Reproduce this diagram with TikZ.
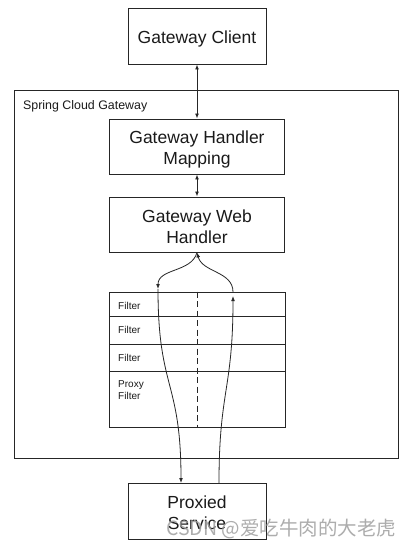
\documentclass[tikz,border=0pt]{standalone}
\usepackage{fontspec}
\setmainfont{Liberation Sans}
\newfontfamily\cjk{Noto Sans CJK SC}
\usetikzlibrary{arrows.meta}
\definecolor{linec}{HTML}{262626}
\definecolor{txt}{HTML}{1A1A1A}
\begin{document}
\begin{tikzpicture}[x=1pt,y=-1pt,
 box/.style={draw=linec, line width=0.9pt, fill=white, inner sep=0pt},
 boxtext/.style={text=txt, font=\fontsize{17.5}{21}\selectfont, align=center, inner sep=0pt},
 frame/.style={draw=linec, line width=0.9pt, inner sep=0pt},
 row/.style={draw=linec, line width=0.9pt, minimum width=176pt, inner sep=0pt},
 flab/.style={font=\fontsize{10}{12}\selectfont, text=txt, align=left, inner sep=0pt},
 conn/.style={draw=linec, line width=0.8pt},
 tip/.style={-{Latex[length=5pt,width=3.8pt]}},
 dtip/.style={{Latex[length=5pt,width=3.8pt]}-{Latex[length=5pt,width=3.8pt]}}
]
\fill[white] (0,0) rectangle (411,547);
\useasboundingbox (0,0) rectangle (411,547);

% outer container
\node[frame, minimum width=384pt, minimum height=368pt] (outer) at (206,274) {};
\node[anchor=west, inner sep=0pt, text=txt, font=\fontsize{12.4}{14}\selectfont] (outerlab) at (23,106) {Spring Cloud Gateway};

% boxes
\node[box, minimum width=138pt, minimum height=56pt] (client) at (197,36) {};
\node[boxtext] (clientt) at ([yshift=-2.5pt]client.center) {Gateway Client};
\node[box, minimum width=175pt, minimum height=55pt] (mapping) at (197,146.5) {};
\node[boxtext] (mappingt) at ([yshift=-2.5pt]mapping.center) {Gateway Handler\\Mapping};
\node[box, minimum width=175pt, minimum height=55pt] (web) at (197,224.5) {};
\node[boxtext] (webt) at ([yshift=-2.5pt]web.center) {Gateway Web\\Handler};
\node[box, minimum width=138pt, minimum height=56pt] (proxied) at (197,511) {};
\node[boxtext] (proxiedt) at ([yshift=-2pt]proxied.center) {Proxied\\Service};

% filter chain
\node[row, minimum height=24pt] (f1) at (197,304) {};
\node[row, minimum height=28pt] (f2) at (197,330) {};
\node[row, minimum height=27pt] (f3) at (197,357.5) {};
\node[row, minimum height=56pt] (f4) at (197,399) {};
\node[flab, anchor=west] (l1) at (118,305.5) {Filter};
\node[flab, anchor=west] (l2) at (118,330) {Filter};
\node[flab, anchor=west] (l3) at (118,357.5) {Filter};
\node[flab, anchor=north west] (l4) at (118,380) {Proxy\\Filter};
\draw[linec, line width=0.8pt, dash pattern=on 6pt off 3.5pt] (f1.north) -- (f4.south);

% vertical connectors
\draw[conn, dtip] (client.south) -- (client.south |- mapping.north);
\draw[conn, dtip] (mapping.south) -- (mapping.south |- web.north);

% request / response paths
\coordinate (lt) at (158,289);
\coordinate (lb) at (181,483);
\coordinate (rb) at (219,483);
\coordinate (rt) at (233,296);
\coordinate (rt2) at (233,292);
\draw[conn, tip] (web.south) to[out=-105,in=90] (lt);
\draw[conn, tip] (lt) .. controls (158,390) and (181,380) .. (lb);
\draw[conn, tip] (rb) .. controls (219,390) and (233,390) .. (rt);
\draw[conn, tip] (rt2) to[out=90,in=-75] (web.south);

% watermark
\node[anchor=base west, inner sep=0pt, text=gray!75, opacity=0.85, font=\cjk\fontsize{19.5}{20}\selectfont] (wm) at (166,535) {CSDN @爱吃牛肉的大老虎};
\end{tikzpicture}
\end{document}
